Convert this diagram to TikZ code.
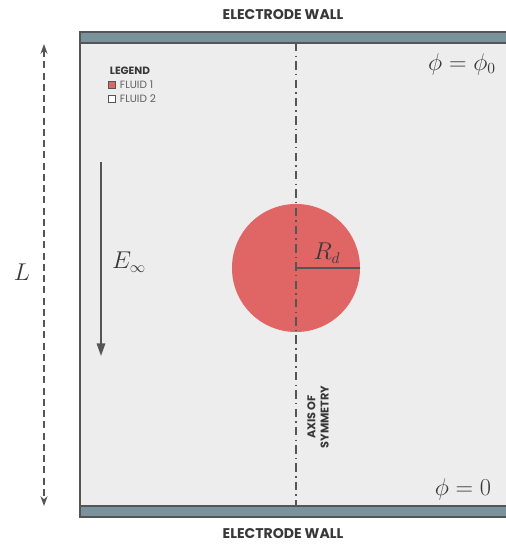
\documentclass[tikz,border=0pt]{standalone}
\usepackage{fontspec}
\setsansfont{Poppins}
\usepackage{tikz}
\usetikzlibrary{arrows.meta}
\definecolor{wall}{HTML}{7A929C}
\definecolor{edge}{HTML}{555555}
\definecolor{fluidtwo}{HTML}{EDEDED}
\definecolor{fluidone}{HTML}{E06666}
\definecolor{ink}{HTML}{383838}

\begin{document}
\begin{tikzpicture}[x=0.025cm, y=-0.025cm, every node/.style={font=\sffamily, text=ink},
  walltitle/.style={font=\sffamily\bfseries\fontsize{10}{12}\selectfont},
  mathlbl/.style={font=\fontsize{16}{19}\selectfont},
  legtext/.style={anchor=west, text=ink!80, font=\sffamily\fontsize{7.5}{9}\selectfont},
  legbox/.style={draw=edge, line width=0.6pt, minimum size=4.5pt, inner sep=0pt},
  wallbar/.style={fill=wall, draw=edge, line width=1.3pt}]
  \useasboundingbox (0,0) rectangle (505,544);

  % Channel and walls
  \fill[fluidtwo] (80,43) rectangle (508,506);
  \filldraw[wallbar] (80,32) rectangle (510,43);
  \filldraw[wallbar] (80,506) rectangle (510,517);
  \draw[edge, line width=1.3pt] (80,32) -- (80,517);
  \node[walltitle] (topwall) at (283,15) {ELECTRODE WALL};
  \node[walltitle] (botwall) at (283,534) {ELECTRODE WALL};

  % Droplet
  \node[circle, fill=fluidone, inner sep=0pt, minimum size=3.2cm] (drop) at (296,268) {};
  \draw[edge, line width=1.5pt] (drop.center) -- (drop.east);
  \node[mathlbl] (radius) at (327,253) {$R_d$};

  % Axis of symmetry
  \coordinate (axtop) at (296,43);
  \coordinate (axbot) at (296,506);
  \draw[edge, line width=1.2pt, dash pattern=on 6pt off 3pt on 1pt off 3pt] (axtop) -- (axbot);
  \node[rotate=90, align=center, font=\sffamily\bfseries\fontsize{8}{9.5}\selectfont] (axislbl) at (318,417) {AXIS OF\\SYMMETRY};

  % Potentials
  \node[mathlbl] (phitop) at (462,64) {$\phi=\phi_0$};
  \node[mathlbl] (phibot) at (463,489) {$\phi=0$};

  % Field
  \coordinate (etop) at (101,162);
  \coordinate (ebot) at (101,356);
  \draw[edge, line width=1.3pt, -{Triangle[length=9pt, width=6pt]}] (etop) -- (ebot);
  \node[mathlbl] (field) at (129,262) {$E_\infty$};

  % Length
  \coordinate (ltop) at (44,44);
  \coordinate (lbot) at (44,506);
  \draw[edge, line width=1pt, dash pattern=on 5pt off 3pt, {Stealth[length=7pt, width=5pt]}-{Stealth[length=7pt, width=5pt]}] (ltop) -- (lbot);
  \node[font=\fontsize{19}{22}\selectfont] (length) at (22,272) {$L$};

  % Legend
  \node[anchor=west, font=\sffamily\bfseries\fontsize{7.5}{9}\selectfont] (legend) at (105,71) {LEGEND};
  \node[legbox, fill=fluidone] (keyone) at (112,85) {};
  \node[legbox, fill=white] (keytwo) at (112,99) {};
  \node[legtext] (nameone) at (115,85) {FLUID 1};
  \node[legtext] (nametwo) at (115,99) {FLUID 2};
\end{tikzpicture}
\end{document}
